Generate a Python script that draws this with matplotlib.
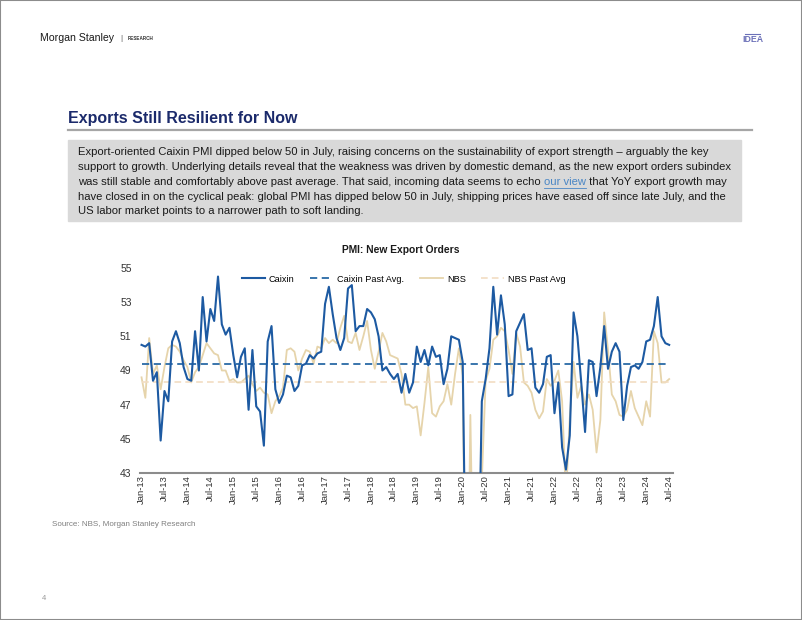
import numpy as np
import pandas as pd
import matplotlib
matplotlib.use('Agg')
import matplotlib.pyplot as plt
from matplotlib.lines import Line2D
from matplotlib.patches import Rectangle

plt.rcParams['font.family'] = ['Liberation Sans Narrow', 'Liberation Sans']

# monthly data, Jan-13 .. Jul-24
months = pd.period_range('2013-01', '2024-07', freq='M')

caixin = [
    50.5, 50.4, 50.6, 48.4, 48.9, 44.9, 47.8, 47.2, 50.7, 51.3, 50.6, 49.2,
    48.5, 48.4, 51.3, 49.0, 53.3, 50.7, 52.6, 51.9, 54.5, 51.7, 51.1, 51.5,
    49.9, 48.6, 49.8, 50.3, 46.7, 50.2, 46.9, 46.6, 44.6, 50.7, 51.6, 47.9,
    47.1, 47.6, 48.7, 48.6, 47.8, 48.1, 49.3, 49.4, 49.9, 49.7, 50.0, 50.1,
    52.9, 53.9, 52.3, 50.9, 50.2, 50.9, 53.8, 54.0, 51.3, 51.6, 51.6, 52.6,
    52.4, 52.0, 51.0, 49.0, 49.2, 48.8, 48.5, 48.8, 47.7, 48.8, 47.7, 48.3,
    50.4, 49.5, 50.2, 49.3, 50.4, 49.8, 49.9, 48.2, 49.1, 51.0, 50.9, 50.8,
    49.5, 33.0, 37.0, 33.5, 35.0, 47.2, 48.5, 50.3, 53.9, 51.1, 53.4, 51.7,
    47.5, 47.6, 51.3, 51.8, 52.3, 50.2, 50.3, 48.0, 47.7, 48.2, 49.8, 49.9,
    46.5, 48.3, 44.5, 43.2, 45.2, 52.4, 51.0, 48.3, 45.4, 49.6, 49.5, 47.5,
    49.2, 51.6, 49.1, 50.1, 50.6, 50.1, 46.1, 48.1, 49.2, 49.3, 49.1, 49.5,
    50.7, 50.8, 51.6, 53.3, 51.0, 50.6, 50.5,
]

nbs = [
    48.6, 47.4, 50.9, 48.8, 49.3, 47.9, 49.2, 50.3, 50.5, 50.4, 50.1, 49.6,
    49.2, 48.3, 48.9, 49.2, 49.9, 50.6, 50.3, 50.0, 49.9, 49.0, 49.0, 48.4,
    48.5, 48.3, 48.3, 48.5, 48.7, 48.2, 47.8, 48.0, 47.7, 47.6, 46.5, 47.2,
    47.5, 48.0, 50.2, 50.3, 50.1, 49.0, 49.7, 50.2, 50.1, 49.4, 50.4, 50.3,
    50.9, 50.6, 50.8, 50.6, 51.5, 52.2, 50.7, 50.6, 51.2, 50.2, 51.0, 51.9,
    50.2, 49.1, 50.1, 51.2, 50.7, 49.9, 49.8, 49.7, 48.8, 47.0, 47.0, 46.8,
    46.9, 45.2, 47.1, 49.2, 46.5, 46.3, 46.9, 47.2, 48.2, 47.0, 48.8, 50.3,
    48.7, 28.7, 46.4, 33.5, 35.3, 42.6, 48.4, 49.1, 50.8, 51.0, 51.5, 51.3,
    50.2, 48.8, 51.2, 50.4, 48.3, 48.1, 47.7, 46.7, 46.2, 46.6, 48.5, 48.1,
    48.4, 49.0, 47.2, 41.6, 46.2, 49.5, 47.4, 48.1, 47.0, 47.6, 46.7, 44.2,
    46.1, 52.4, 50.2, 47.6, 47.2, 46.4, 46.3, 46.7, 47.8, 46.8, 46.3, 45.8,
    47.2, 46.3, 51.3, 50.6, 48.3, 48.3, 48.5,
]

caixin_avg = 49.4
nbs_avg = 48.3
y_ticks = [43, 45, 47, 49, 51, 53, 55]

W, H = 802, 620


def fx(px):
    return px / W


def fy(py):
    return 1 - py / H


fig = plt.figure(figsize=(8.02, 6.2), dpi=100)
fig.patches.append(Rectangle((0, 0), 1, 1, transform=fig.transFigure,
                             fill=False, edgecolor='#8c8c8c', lw=1.5))

# header
fig.text(fx(40), fy(38), 'Morgan Stanley', fontsize=7.6, va='center', color='#1a1a1a')
fig.text(fx(120), fy(38), '|', fontsize=6, va='center', color='#555555')
fig.text(fx(128), fy(38.3), 'RESEARCH', fontsize=3.3, va='center', color='#333333', weight='bold')
fig.text(fx(752.5), fy(39.5), 'IDEA', fontsize=6.3, va='center', ha='center',
         color='#6b70b8', weight='bold')
fig.add_artist(Line2D([fx(745), fx(760)], [fy(34), fy(34)], color='#6b70b8', lw=0.8))

# section title
fig.text(fx(68), fy(119), 'Exports Still Resilient for Now', fontsize=11.5,
         weight='bold', color='#1b2a6b', va='center')
fig.add_artist(Line2D([fx(68), fx(752)], [fy(129.5), fy(129.5)], color='#a6a6a6', lw=1.6))

# comment box
fig.patches.append(Rectangle((fx(68), fy(221)), fx(741) - fx(68), (221 - 140) / H,
                             transform=fig.transFigure, color='#d9d9d9', zorder=0))

lines = [
    'Export-oriented Caixin PMI dipped below 50 in July, raising concerns on the sustainability of export strength \u2013 arguably the key',
    'support to growth. Underlying details reveal that the weakness was driven by domestic demand, as the new export orders subindex',
    None,
    'have closed in on the cyclical peak: global PMI has dipped below 50 in July, shipping prices have eased off since late July, and the',
    'US labor market points to a narrower path to soft landing.',
]
line_y = [152, 167, 182, 197, 211]
fs_body = 8.1
for t, yy in zip(lines, line_y):
    if t is not None:
        fig.text(fx(78), fy(yy), t, fontsize=fs_body, va='center', color='#1a1a1a')

# line with the link
renderer = fig.canvas.get_renderer()
fig_w = fig.dpi * 8.02
p1 = fig.text(fx(78), fy(182), 'was still stable and comfortably above past average. That said, incoming data seems to echo ',
              fontsize=fs_body, va='center', color='#1a1a1a')
bb = p1.get_window_extent(renderer)
p2 = fig.text(bb.x1 / fig_w, fy(182), 'our view', fontsize=fs_body, va='center', color='#4a86c5')
bb2 = p2.get_window_extent(renderer)
fig.add_artist(Line2D([bb2.x0 / fig_w, bb2.x1 / fig_w],
                      [fy(188), fy(188)], color='#4a86c5', lw=0.6))
fig.text(bb2.x1 / fig_w, fy(182), ' that YoY export growth may',
         fontsize=fs_body, va='center', color='#1a1a1a')

# chart
fig.text(fx(400.5), fy(250), 'PMI: New Export Orders', ha='center', va='center',
         fontsize=7.4, weight='bold', color='#1a1a1a')

ax = fig.add_axes([fx(140), fy(473), (673 - 140) / W, (473 - 268) / H])
x = np.arange(len(months))

ax.plot(x, nbs, color='#e6d4ab', lw=1.3, label='NBS', zorder=2)
ax.plot(x, [nbs_avg] * len(x), color='#f2ddc2', lw=1.2, ls=(0, (4, 2.5)),
        label='NBS Past Avg', zorder=2)
ax.plot(x, caixin, color='#1d5aa2', lw=1.5, label='Caixin', zorder=4)
ax.plot(x, [caixin_avg] * len(x), color='#2a6aa6', lw=1.3, ls=(0, (4, 2.5)),
        label='Caixin Past Avg.', zorder=3)

ax.set_ylim(43, 55)
ax.set_xlim(-0.4, 139.0)
ax.set_yticks(y_ticks)
ax.set_yticklabels([str(v) for v in y_ticks], fontsize=7.5, color='#333333')
tick_pos = x[::6]
ax.set_xticks(tick_pos)
ax.set_xticklabels([months[i].strftime('%b-%y') for i in tick_pos],
                   rotation=90, fontsize=6.8, color='#333333')
ax.tick_params(axis='x', length=0, pad=1.5)
ax.tick_params(axis='y', length=0, pad=6)
for s in ['top', 'right', 'left']:
    ax.spines[s].set_visible(False)
ax.spines['bottom'].set_color('#8c8c8c')
ax.spines['bottom'].set_linewidth(1.5)

handles, labels = ax.get_legend_handles_labels()
order = [2, 3, 0, 1]
ax.legend([handles[i] for i in order], [labels[i] for i in order],
          loc='center', bbox_to_anchor=(fx(404), fy(279)), bbox_transform=fig.transFigure,
          ncol=4, frameon=False, fontsize=6.6, handlelength=2.5,
          handletextpad=0.45, columnspacing=1.7)

fig.text(fx(52), fy(524), 'Source: NBS, Morgan Stanley Research', fontsize=5.8,
         va='center', color='#7f7f7f')
fig.text(fx(42), fy(599), '4', fontsize=5.5, va='center', color='#999999')

fig.savefig('out.png', dpi=100)
